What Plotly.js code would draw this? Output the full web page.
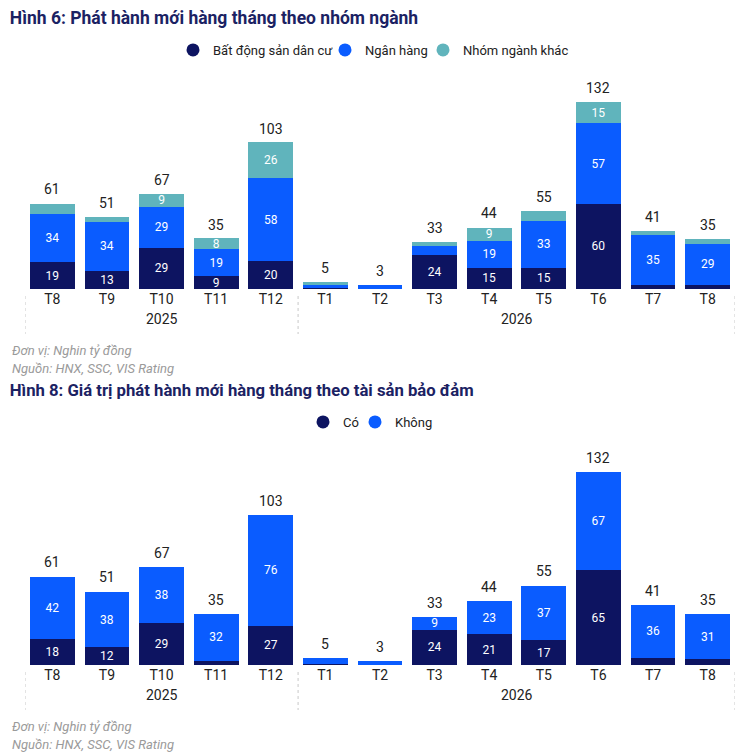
<!DOCTYPE html>
<html>
<head>
<meta charset="utf-8">
<script src="https://cdn.plot.ly/plotly-3.0.1.min.js"></script>
<style>
html,body{margin:0;padding:0;background:#fff;}
#c1{width:756px;height:376px;}
#c2{width:756px;height:377px;}
</style>
</head>
<body>
<div id="c1"></div>
<div id="c2"></div>
<script>
// ---- shared categories ----
const months = ['T8','T9','T10','T11','T12','T1','T2','T3','T4','T5','T6','T7','T8'];
const years  = ['2025','2025','2025','2025','2025','2026','2026','2026','2026','2026','2026','2026','2026'];

// ---- Chart 1: Hình 6 ----
const bdsDanCu   = [19,13,29, 9,20,1,0,24,15,15,60, 3, 3];
const nganHang   = [34,34,29,19,58,2,3, 6,19,33,57,35,29];
const nganhKhac  = [ 7, 4, 9, 8,26,2,0, 3, 9, 7,15, 3, 3];
const totals1    = [61,51,67,35,103,5,3,33,44,55,132,41,35];

// ---- Chart 2: Hình 8 ----
const coTSBD     = [18,12,29, 3,27,1,0,24,21,17,65, 5, 4];
const khongTSBD  = [42,38,38,32,76,4,3, 9,23,37,67,36,31];
const totals2    = [61,51,67,35,103,5,3,33,44,55,132,41,35];

const C_NAVY = '#0d1461', C_BLUE = '#0a5cff', C_TEAL = '#60b4bc';
const FONT = 'Roboto, "Noto Sans", Arial, sans-serif';
const LABEL_MIN = 8;

const idx = months.map((_, i) => i);
const lbl = arr => arr.map(v => v >= LABEL_MIN ? String(v) : '');
const legendIds = ['legend', 'legend2', 'legend3'];

function barTrace(vals, color, name, k){
  return {
    type:'bar', x:idx, y:vals, name:name, marker:{color:color},
    text: lbl(vals), texttemplate:'%{text}', textposition:'inside', insidetextanchor:'middle',
    textangle:0, textfont:{family:FONT, size:12, color:'#ffffff'}, constraintext:'none',
    legend:legendIds[k], showlegend:false, hoverinfo:'skip'
  };
}
function legendTrace(color, name, k){
  return {type:'scatter', mode:'markers', x:[null], y:[null], name:name, legend:legendIds[k],
          marker:{color:color, size:13, symbol:'circle'}, showlegend:true, hoverinfo:'skip'};
}

// year groups derived from the years array
const groups = [];
years.forEach((y, i) => {
  const g = groups.length ? groups[groups.length - 1] : null;
  if (g && g.year === y) g.end = i; else groups.push({year:y, start:i, end:i});
});
const dividers = [-0.5].concat(groups.map(g => g.end + 0.5));

function makeLayout(title, titleSize, H, titleY, legendY, legendLefts, yMax, totals){
  const plotTop = 80, plotBottom = 289;
  const ph = plotBottom - plotTop;
  const toPaper = py => (plotBottom - py) / ph;
  const noteFont = {family:FONT, size:13, color:'#9a9a9a', style:'italic'};
  const layout = {
    width:756, height:H,
    margin:{l:25, r:21, t:plotTop, b:H - plotBottom},
    paper_bgcolor:'#fff', plot_bgcolor:'#fff',
    barmode:'stack', bargap:0.18,
    font:{family:FONT, color:'#222'},
    title:{text:title, xref:'container', x:0.013, xanchor:'left', yref:'container', y:1 - titleY/H, yanchor:'middle',
           font:{family:FONT, size:titleSize, weight:700, color:'#1b2263'}},
    xaxis:{type:'linear', range:[-0.5, months.length - 0.5], tickmode:'array', tickvals:idx, ticktext:months,
           showgrid:false, zeroline:false, showline:false, ticks:'', fixedrange:true,
           tickfont:{family:FONT, size:14, color:'#222'}},
    yaxis:{range:[0, yMax], visible:false, showgrid:false, zeroline:false, fixedrange:true},
    shapes: dividers.map(p => ({type:'line', xref:'x', yref:'paper', x0:p, x1:p,
           y0:toPaper(296), y1:toPaper(334), line:{color:'#c8c8c8', width:1, dash:'dot'}})),
    annotations: totals.map((t, i) => ({xref:'x', yref:'y', x:i, y:t, yanchor:'bottom', yshift:4,
           showarrow:false, text:String(t), font:{family:FONT, size:14, color:'#222'}}))
      .concat(groups.map(g => ({xref:'x', yref:'paper', x:(g.start + g.end) / 2, y:toPaper(319),
           xanchor:'center', yanchor:'middle', showarrow:false, text:g.year,
           font:{family:FONT, size:14, color:'#222'}})))
      .concat([
      {xref:'paper', yref:'paper', x:-15/710, y:toPaper(350), xanchor:'left', yanchor:'middle', showarrow:false,
       text:'Đơn vị: Nghin tỷ đồng', font:noteFont},
      {xref:'paper', yref:'paper', x:-15/710, y:toPaper(368), xanchor:'left', yanchor:'middle', showarrow:false,
       text:'Nguồn: HNX, SSC, VIS Rating', font:noteFont}
    ])
  };
  legendLefts.forEach((px, k) => {
    layout[legendIds[k]] = {orientation:'h', xref:'container', x:px/756, xanchor:'left',
      yref:'container', y:1 - legendY/H, yanchor:'middle', bgcolor:'rgba(0,0,0,0)',
      font:{family:FONT, size:13, color:'#222'}, itemwidth:30};
  });
  return layout;
}

const names1 = ['Bất động sản dân cư', 'Ngân hàng', 'Nhóm ngành khác'];
const data1 = [
  barTrace(bdsDanCu, C_NAVY, names1[0], 0),
  barTrace(nganHang, C_BLUE, names1[1], 1),
  barTrace(nganhKhac, C_TEAL, names1[2], 2),
  legendTrace(C_NAVY, names1[0], 0),
  legendTrace(C_BLUE, names1[1], 1),
  legendTrace(C_TEAL, names1[2], 2)
];
Plotly.newPlot('c1', data1,
  makeLayout('Hình 6: Phát hành mới hàng tháng theo nhóm ngành', 17.5, 376, 18, 50, [173, 325, 423], 209/1.417, totals1),
  {displayModeBar:false, staticPlot:true});

const names2 = ['Có', 'Không'];
const data2 = [
  barTrace(coTSBD, C_NAVY, names2[0], 0),
  barTrace(khongTSBD, C_BLUE, names2[1], 1),
  legendTrace(C_NAVY, names2[0], 0),
  legendTrace(C_BLUE, names2[1], 1)
];
Plotly.newPlot('c2', data2,
  makeLayout('Hình 8: Giá trị phát hành mới hàng tháng theo tài sản bảo đảm', 16.7, 377, 14, 46, [303, 355], 209/1.46, totals2),
  {displayModeBar:false, staticPlot:true});
</script>
</body>
</html>
